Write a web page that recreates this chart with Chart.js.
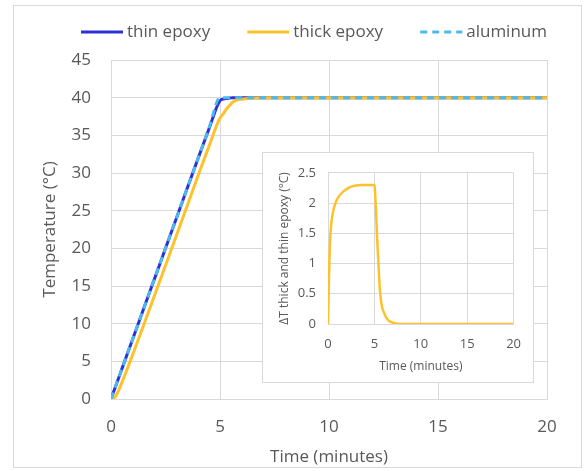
<!DOCTYPE html>
<html>
<head>
<meta charset="utf-8">
<script src="https://cdn.jsdelivr.net/npm/chart.js@4.4.1/dist/chart.umd.min.js"></script>
<style>
  html, body { margin: 0; padding: 0; background: #ffffff; }
  #wrap { position: relative; width: 584px; height: 471px; }
  #main { position: absolute; left: 0; top: 0; }
  #insetBox { position: absolute; left: 262px; top: 152px; width: 272px; height: 231px;
              background: #ffffff; box-sizing: border-box; border: 1px solid #d9d9d9; }
  #inset { position: absolute; left: 0; top: 0; }
</style>
</head>
<body>
<div id="wrap">
  <canvas id="main" width="584" height="471"></canvas>
  <div id="insetBox"><canvas id="inset" width="270" height="229"></canvas></div>
</div>
<script>
// Time samples (minutes)
const timeMin = [0, 0.1, 0.2, 0.35, 0.5, 0.8, 1, 1.5, 2, 2.5, 3, 3.5, 4, 4.5, 5,
                 5.15, 5.3, 5.45, 5.6, 5.8, 6, 6.3, 6.6, 7, 7.5, 8, 9, 10, 12, 14, 16, 18, 20];

// Temperatures (°C)
const aluminumC  = [0, 0.8, 1.6, 2.8, 4.0, 6.4, 8.0, 12.0, 16.0, 20.0, 24.0, 28.0, 32.0, 36.0, 40.0,
                    40, 40, 40, 40, 40, 40, 40, 40, 40, 40, 40, 40, 40, 40, 40, 40, 40, 40];
const thinEpoxyC = [0, 0.8, 1.6, 2.8, 4.0, 6.4, 8.0, 12.0, 16.0, 20.0, 24.0, 28.0, 32.0, 35.9, 39.6,
                    39.8, 39.9, 39.95, 40, 40, 40, 40, 40, 40, 40, 40, 40, 40, 40, 40, 40, 40, 40];
const thickEpoxyC = [0, 0.05, 0.3, 1.15, 2.18, 4.4, 5.93, 9.83, 13.77, 17.73, 21.71, 25.7, 29.7, 33.6, 37.3,
                     37.85, 38.5, 39.0, 39.45, 39.7, 39.8, 39.9, 39.95, 39.98, 39.995, 40, 40, 40, 40, 40, 40, 40, 40];

// Difference between thick and thin epoxy (°C)
const deltaC = [0, 0.75, 1.3, 1.65, 1.82, 2.0, 2.07, 2.17, 2.23, 2.27, 2.29, 2.3, 2.3, 2.3, 2.3,
                1.95, 1.4, 0.95, 0.55, 0.3, 0.2, 0.1, 0.05, 0.02, 0.005, 0, 0, 0, 0, 0, 0, 0, 0];

// Axis ticks
const mainXTicks = [0, 5, 10, 15, 20];
const mainYTicks = [0, 5, 10, 15, 20, 25, 30, 35, 40, 45];
const insetYTicks = [0, 0.5, 1, 1.5, 2, 2.5];

const FONT = "'Open Sans', 'Noto Sans', sans-serif";
const TEXT = '#595959';
const GRID = '#d9d9d9';

const pts = (ys) => timeMin.map((t, i) => ({ x: t, y: ys[i] }));
const plain = (v) => String(v);

// Frame around the whole figure plus a line-sample legend across the top
const framePlugin = {
  id: 'frame',
  beforeDraw(chart) {
    const ctx = chart.ctx;
    ctx.save();
    ctx.fillStyle = '#ffffff';
    ctx.fillRect(0, 0, chart.width, chart.height);
    ctx.strokeStyle = GRID;
    ctx.lineWidth = 1;
    ctx.strokeRect(13.5, 5.5, 568, 462);
    ctx.restore();
  },
  afterDraw(chart) {
    const ctx = chart.ctx;
    ctx.save();
    ctx.font = '17px ' + FONT;
    ctx.textBaseline = 'middle';
    ctx.textAlign = 'left';
    const sample = 42, gap = 4, y = 32;
    const ds = chart.data.datasets;
    const widths = ds.map(d => ctx.measureText(d.label).width);
    const used = widths.reduce((a, w) => a + w + sample + gap, 0);
    const itemGap = (547 - 81 - used) / (ds.length - 1);
    let x = 81;
    ds.forEach((d, i) => {
      ctx.strokeStyle = d.borderColor;
      ctx.lineWidth = d.borderWidth;
      ctx.setLineDash(d.borderDash || []);
      ctx.beginPath();
      ctx.moveTo(x, y);
      ctx.lineTo(x + sample, y);
      ctx.stroke();
      ctx.setLineDash([]);
      ctx.fillStyle = TEXT;
      ctx.fillText(d.label, x + sample + gap, y);
      x += sample + gap + widths[i] + itemGap;
    });
    ctx.restore();
  }
};

new Chart(document.getElementById('main'), {
  type: 'line',
  data: {
    datasets: [
      { label: 'thin epoxy', data: pts(thinEpoxyC), borderColor: '#2f2fd8', borderWidth: 3, order: 3 },
      { label: 'thick epoxy', data: pts(thickEpoxyC), borderColor: '#fdc22b', borderWidth: 3, order: 2 },
      { label: 'aluminum', data: pts(aluminumC), borderColor: '#4db8ea', borderWidth: 3,
        borderDash: [7, 5], order: 1 }
    ]
  },
  options: {
    responsive: false,
    animation: false,
    events: [],
    elements: { point: { radius: 0 }, line: { tension: 0.3, cubicInterpolationMode: 'monotone' } },
    layout: { padding: { left: 0, right: 37, top: 60, bottom: 0 } },
    plugins: { legend: { display: false }, tooltip: { enabled: false } },
    scales: {
      x: {
        type: 'linear', min: 0, max: 20,
        afterBuildTicks: (s) => { s.ticks = mainXTicks.map(v => ({ value: v })); },
        afterFit: (s) => { s.height = 72; },
        grid: { color: GRID, drawTicks: false },
        border: { color: GRID },
        ticks: { color: TEXT, font: { family: FONT, size: 17 }, padding: 18, maxRotation: 0, callback: plain },
        title: { display: true, text: 'Time (minutes)', color: TEXT,
                 font: { family: FONT, size: 17 }, padding: { top: 0, bottom: 4 } }
      },
      y: {
        min: 0, max: 45,
        afterBuildTicks: (s) => { s.ticks = mainYTicks.map(v => ({ value: v })); },
        afterFit: (s) => { s.width = 111; },
        grid: { color: GRID, drawTicks: false },
        border: { color: GRID },
        ticks: { color: TEXT, font: { family: FONT, size: 17 }, padding: 20, callback: plain },
        title: { display: true, text: 'Temperature (°C)', color: TEXT,
                 font: { family: FONT, size: 17 }, padding: { top: 40, bottom: 0 } }
      }
    }
  },
  plugins: [framePlugin]
});

new Chart(document.getElementById('inset'), {
  type: 'line',
  data: {
    datasets: [
      { label: 'ΔT', data: pts(deltaC), borderColor: '#fdc22b', borderWidth: 2.5 }
    ]
  },
  options: {
    responsive: false,
    animation: false,
    events: [],
    elements: { point: { radius: 0 }, line: { tension: 0.3, cubicInterpolationMode: 'monotone' } },
    layout: { padding: { left: 0, right: 16, top: 11, bottom: 0 } },
    plugins: { legend: { display: false }, tooltip: { enabled: false } },
    scales: {
      x: {
        type: 'linear', min: 0, max: 20,
        afterBuildTicks: (s) => { s.ticks = mainXTicks.map(v => ({ value: v })); },
        afterFit: (s) => { s.height = 58; },
        grid: { color: GRID, drawTicks: false },
        border: { color: GRID },
        ticks: { color: TEXT, font: { family: FONT, size: 13 }, padding: 12, maxRotation: 0, callback: plain },
        title: { display: true, text: 'Time (minutes)', color: TEXT,
                 font: { family: FONT, size: 12 }, padding: { top: 0, bottom: 8 } }
      },
      y: {
        min: 0, max: 2.5,
        afterBuildTicks: (s) => { s.ticks = insetYTicks.map(v => ({ value: v })); },
        afterFit: (s) => { s.width = 65; },
        grid: { color: GRID, drawTicks: false },
        border: { color: GRID },
        ticks: { color: TEXT, font: { family: FONT, size: 13 }, padding: 12, callback: plain },
        title: { display: true, text: 'ΔT thick and thin epoxy (°C)', color: TEXT,
                 font: { family: FONT, size: 12 }, padding: { top: 14, bottom: 0 } }
      }
    }
  }
});
</script>
</body>
</html>
